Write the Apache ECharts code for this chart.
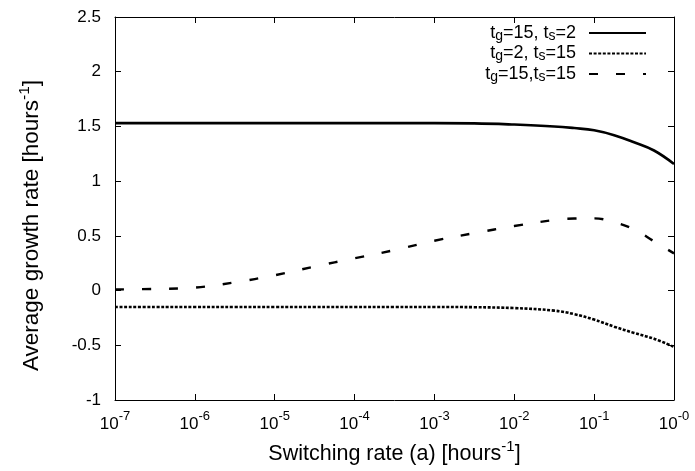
<!DOCTYPE html>
<html><head><meta charset="utf-8">
<script src="https://cdn.jsdelivr.net/npm/echarts@6/dist/echarts.min.js"></script>
<style>html,body{margin:0;padding:0;background:#fff}#c{width:695px;height:471px}</style>
</head><body><div id="c"></div>
<script>
// switching rate a [hours^-1]
const xValues = [1e-7, 3.16e-7, 1e-6, 3.16e-6, 1e-5, 3.16e-5, 1e-4, 3.16e-4, 1e-3, 3.16e-3, 1e-2, 3.16e-2, 5.62e-2, 1e-1, 1.78e-1, 3.16e-1, 5.62e-1, 1];
// average growth rate
const solidTg15Ts2 = [1.53, 1.53, 1.53, 1.53, 1.53, 1.53, 1.53, 1.53, 1.53, 1.528, 1.517, 1.50, 1.485, 1.465, 1.42, 1.355, 1.28, 1.157];
const dottedTg2Ts15 = [-0.15, -0.15, -0.15, -0.15, -0.15, -0.15, -0.15, -0.15, -0.15, -0.152, -0.16, -0.183, -0.215, -0.265, -0.33, -0.387, -0.44, -0.515];
const dashedTg15Ts15 = [0.01, 0.015, 0.027, 0.075, 0.14, 0.22, 0.295, 0.37, 0.455, 0.525, 0.59, 0.645, 0.658, 0.66, 0.625, 0.56, 0.45, 0.34];
const seriesNames = ['t_g=15, t_s=2', 't_g=2, t_s=15', 't_g=15,t_s=15'];
const legendRich = ['{t|t}{s|g}{t|=15, t}{s|s}{t|=2}', '{t|t}{s|g}{t|=2, t}{s|s}{t|=15}', '{t|t}{s|g}{t|=15,t}{s|s}{t|=15}'];
const xTickExponents = ['-7', '-6', '-5', '-4', '-3', '-2', '-1', '-0'];
const yTicks = [-1, -0.5, 0, 0.5, 1, 1.5, 2, 2.5];

const FONT = 'Liberation Sans';
const chart = echarts.init(document.getElementById('c'), null, {renderer: 'canvas'});
const pairs = arr => xValues.map((x, i) => [x, arr[i]]);
const supRich = {
  b: {fontSize: 17, fontFamily: FONT, color: '#000', lineHeight: 28},
  s: {fontSize: 13, fontFamily: FONT, color: '#000', lineHeight: 13, verticalAlign: 'top'}
};
const titleRichX = {
  b: {fontSize: 21.5, fontFamily: FONT, color: '#000', lineHeight: 30},
  s: {fontSize: 15, fontFamily: FONT, color: '#000', lineHeight: 15, verticalAlign: 'top'}
};
const titleRichY = {
  b: {fontSize: 22.5, fontFamily: FONT, color: '#000', lineHeight: 30},
  s: {fontSize: 15.5, fontFamily: FONT, color: '#000', lineHeight: 15, verticalAlign: 'top'}
};
const lineStyles = [
  {color: '#000', width: 2.6, type: 'solid'},
  {color: '#000', width: 2.6, type: [3, 1.6]},
  {color: '#000', width: 2.4, type: [9, 18]}
];
const dataSets = [solidTg15Ts2, dottedTg2Ts15, dashedTg15Ts15];

chart.setOption({
  animation: false,
  backgroundColor: '#fff',
  grid: {left: 115, right: 21, top: 17, bottom: 71, containLabel: false, outerBoundsMode: 'none'},
  legend: {
    orient: 'vertical', right: 48, top: 24, align: 'right', itemGap: 1.5, padding: 0,
    itemWidth: 57, itemHeight: 10,
    data: seriesNames,
    itemStyle: {color: 'rgba(0,0,0,0)', borderWidth: 0, opacity: 0},
    formatter: name => legendRich[seriesNames.indexOf(name)],
    textStyle: {
      fontSize: 18, fontFamily: FONT, color: '#000', padding: [0, 8, 0, 0],
      rich: {
        t: {fontSize: 18, fontFamily: FONT, color: '#000', lineHeight: 20},
        s: {fontSize: 14, fontFamily: FONT, color: '#000', lineHeight: 12, verticalAlign: 'bottom'}
      }
    }
  },
  xAxis: [{
    type: 'log', logBase: 10, min: 1e-7, max: 1, interval: 1,
    name: '{b|Switching rate (a) [hours}{s|-1}{b|]}',
    nameLocation: 'middle', nameGap: 39,
    nameTextStyle: {rich: titleRichX},
    axisLine: {show: true, onZero: false, lineStyle: {color: '#000', width: 1}},
    axisTick: {show: true, inside: true, length: 6, lineStyle: {color: '#000'}},
    minorTick: {show: false},
    splitLine: {show: false},
    axisLabel: {
      margin: 10,
      formatter: (v, i) => '{b|10}{s|' + xTickExponents[i] + '}',
      rich: supRich
    }
  }, {
    type: 'log', logBase: 10, min: 1e-7, max: 1, interval: 1, position: 'top',
    axisLine: {show: true, onZero: false, lineStyle: {color: '#000', width: 1}},
    axisTick: {show: true, inside: true, length: 6, lineStyle: {color: '#000'}},
    axisLabel: {show: false}, splitLine: {show: false}
  }],
  yAxis: [{
    type: 'value', min: yTicks[0], max: yTicks[yTicks.length - 1], interval: 0.5,
    name: '{b|Average growth rate [hours}{s|-1}{b|]}',
    nameLocation: 'middle', nameGap: 68, nameRotate: 90,
    nameTextStyle: {rich: titleRichY, padding: [0, 34, 0, 0]},
    axisLine: {show: true, onZero: false, lineStyle: {color: '#000', width: 1}},
    axisTick: {show: true, inside: true, length: 6, lineStyle: {color: '#000'}},
    splitLine: {show: false},
    axisLabel: {margin: 14, fontSize: 17, fontFamily: FONT, color: '#000'}
  }, {
    type: 'value', min: yTicks[0], max: yTicks[yTicks.length - 1], interval: 0.5, position: 'right',
    axisLine: {show: true, onZero: false, lineStyle: {color: '#000', width: 1}},
    axisTick: {show: true, inside: true, length: 6, lineStyle: {color: '#000'}},
    axisLabel: {show: false}, splitLine: {show: false}
  }],
  series: seriesNames.map((n, k) => ({
    name: n, type: 'line', xAxisIndex: 0, yAxisIndex: 0,
    data: pairs(dataSets[k]), showSymbol: false, symbol: 'none', smooth: 0.4,
    lineStyle: lineStyles[k], itemStyle: {color: '#000'}
  }))
});
</script></body></html>
